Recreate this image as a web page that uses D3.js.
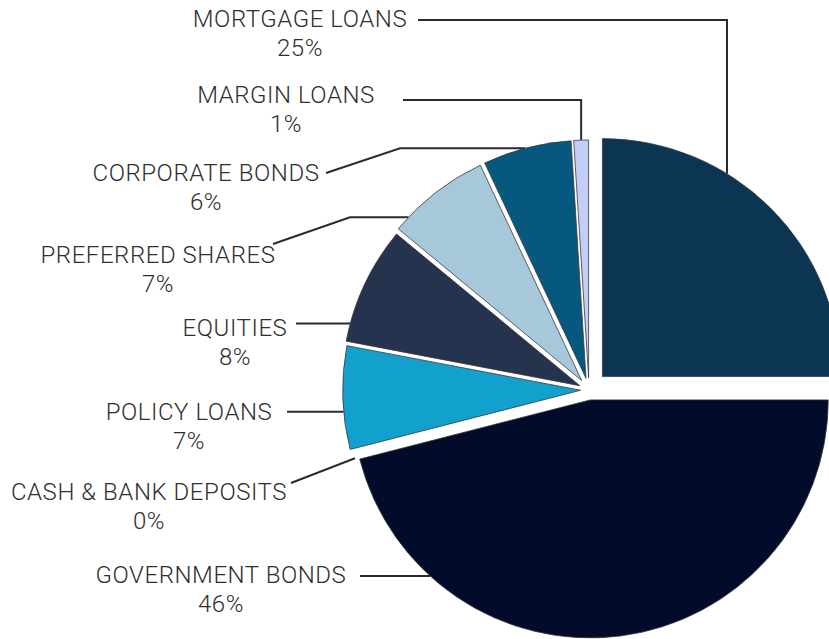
<!DOCTYPE html>
<html>
<head>
<meta charset="utf-8">
<script src="https://cdn.jsdelivr.net/npm/d3@7"></script>
<style>
  html, body { margin: 0; padding: 0; background: #fff; overflow: hidden; }
  svg { display: block; }
  .lbl { font-family: Roboto, "Liberation Sans", Arial, sans-serif; font-weight: 300; font-size: 24px; letter-spacing: 0.55px; fill: #2f2f2f; }
  .leader { fill: none; stroke: #2b2b2b; stroke-width: 2; }
  .slice { stroke: #3a3a3a; stroke-width: 0.8; }
</style>
</head>
<body>
<svg id="chart" width="829" height="639"></svg>
<script>
// Invested assets by class, % of total, clockwise from 12 o'clock
const categories = [
  "MORTGAGE LOANS", "GOVERNMENT BONDS", "CASH & BANK DEPOSITS", "POLICY LOANS",
  "EQUITIES", "PREFERRED SHARES", "CORPORATE BONDS", "MARGIN LOANS"
];
const shares = [25, 46, 0, 7, 8, 7, 6, 1];

// Slice fills, same order as categories
const colors = ["#0b3552", "#020b29", "#8fa5c4", "#12a1cc", "#26334f", "#a7c8da", "#06587e", "#c4cdf6"];

// How far each slice is pulled out from the pie centre (px)
const explode = [19, 10, 10, 8.3, 10, 12, 12, 12];

// Label placement: centre x and baseline of the category line
const labelX = [300, 221, 149, 189, 235, 158, 206, 286];
const labelY = [27, 583, 500, 420, 336, 263, 181, 103];

// Leader lines: fixed waypoints from the label; the final segment runs to the slice edge
const leaders = [
  { pts: [[418, 20], [727, 20]], end: "down" },
  { pts: [[360, 576]], end: "across" },
  { pts: [[291, 483]], end: "gap" },
  { pts: [[287, 411.7]], end: "across" },
  { pts: [[296, 323.5]], end: "across" },
  { pts: [[273, 244], [350, 217.3]], end: "across" },
  { pts: [[326, 173], [400, 148.3]], end: "across" },
  { pts: [[403, 100]], end: "apex" }
];

const W = 829, H = 639;
const cx = 589, cy = 390, R = 238;

const svg = d3.select("#chart");

const rows = categories.map((c, i) => ({ name: c, value: shares[i], color: colors[i], explode: explode[i], i }));

const pie = d3.pie().value(d => d.value).sort(null).startAngle(0).endAngle(2 * Math.PI);
const arcs = pie(rows);
const arc = d3.arc().innerRadius(0).outerRadius(R);

const dir = a => [Math.sin(a), -Math.cos(a)];
// apex (tip) of each exploded slice
arcs.forEach(a => {
  const mid = (a.startAngle + a.endAngle) / 2;
  const [dx, dy] = dir(mid);
  a.tip = [cx + a.data.explode * dx, cy + a.data.explode * dy];
  a.mid = mid;
});

// Leader lines (under the slices)
const gLead = svg.append("g");
arcs.forEach((a, k) => {
  const L = leaders[k];
  const pts = L.pts.map(p => p.slice());
  const last = pts[pts.length - 1];
  const [tx, ty] = a.tip;
  if (L.end === "across") {
    const dy = last[1] - ty;
    pts.push([tx - Math.sqrt(R * R - dy * dy), last[1]]);
  } else if (L.end === "down") {
    const dx = last[0] - tx;
    pts.push([last[0], ty - Math.sqrt(R * R - dx * dx)]);
  } else if (L.end === "apex") {
    const [ux, uy] = dir(a.mid);
    const ax = tx + R * ux, ay = ty + R * uy;
    pts.push([ax, last[1]]);
    pts.push([ax, ay]);
  } else if (L.end === "gap") {
    // between the neighbouring slices' outer corners
    const prev = arcs[k - 1], next = arcs[k + 1];
    const [ex, ey] = dir(a.startAngle);
    const p1 = [prev.tip[0] + R * ex, prev.tip[1] + R * ey];
    const p2 = [next.tip[0] + R * ex, next.tip[1] + R * ey];
    pts.push([(p1[0] + p2[0]) / 2, (p1[1] + p2[1]) / 2 + 4]);
  }
  gLead.append("path").attr("class", "leader").attr("d", d3.line()(pts));
});

// Slices
svg.append("g")
  .selectAll("path")
  .data(arcs.filter(a => a.data.value > 0))
  .join("path")
  .attr("class", "slice")
  .attr("fill", a => a.data.color)
  .attr("transform", a => `translate(${a.tip[0]},${a.tip[1]})`)
  .attr("d", arc);

// Labels
const gLab = svg.append("g");
arcs.forEach((a, k) => {
  const t = gLab.append("text").attr("class", "lbl").attr("text-anchor", "middle");
  t.append("tspan").attr("x", labelX[k]).attr("y", labelY[k]).text(a.data.name);
  t.append("tspan").attr("x", labelX[k]).attr("y", labelY[k] + 29).text(Math.round(a.data.value) + "%");
});
</script>
</body>
</html>
